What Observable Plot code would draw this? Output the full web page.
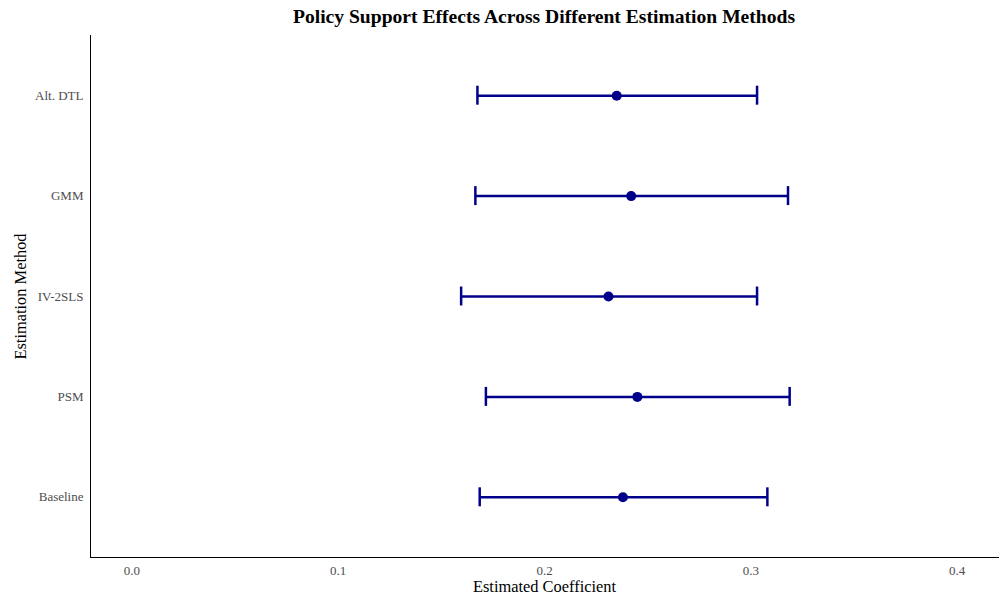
<!DOCTYPE html>
<html>
<head>
<meta charset="utf-8">
<script src="https://cdn.jsdelivr.net/npm/d3@7"></script>
<script src="https://cdn.jsdelivr.net/npm/@observablehq/plot@0.6"></script>
<style>
  html, body { margin: 0; padding: 0; background: #fff; }
  #wrap { width: 1005px; height: 599px; position: relative; font-family: "Liberation Serif", "Times New Roman", serif; }
  #title { position: absolute; left: 90px; width: 908px; top: 5px; text-align: center; font-weight: bold; font-size: 19.6px; color: #000; line-height: 24px; }
  #chart { position: absolute; left: 0; top: 30px; }
</style>
</head>
<body>
<div id="wrap">
  <div id="title">Policy Support Effects Across Different Estimation Methods</div>
  <div id="chart"></div>
</div>
<script>
const methods = ["Alt. DTL", "GMM", "IV-2SLS", "PSM", "Baseline"];
const estimates = [0.235, 0.242, 0.231, 0.245, 0.238];
const ciLower = [0.1675, 0.1665, 0.1596, 0.1716, 0.1686];
const ciUpper = [0.3030, 0.3180, 0.3030, 0.3188, 0.3080];
const xTicks = [0.0, 0.1, 0.2, 0.3, 0.4];

const data = methods.map((m, i) => ({method: m, est: estimates[i], lo: ciLower[i], hi: ciUpper[i]}));
const col = "#00008B";

const chart = Plot.plot({
  width: 1005,
  height: 569,
  marginLeft: 90,
  marginRight: 7,
  marginTop: 5,
  marginBottom: 42,
  style: {fontFamily: "'Liberation Serif', 'Times New Roman', serif", background: "#fff"},
  x: {
    domain: [-0.02, 0.42],
    ticks: xTicks,
    tickFormat: d3.format(".1f"),
    tickSize: 0,
    tickPadding: 8,
    line: true,
    label: "Estimated Coefficient",
    labelAnchor: "center",
    labelArrow: "none",
    labelOffset: 34
  },
  y: {
    type: "band",
    domain: methods,
    round: false,
    paddingInner: 0.811,
    paddingOuter: 0.505,
    tickSize: 0,
    tickPadding: 7,
    line: true,
    label: "Estimation Method",
    labelAnchor: "center",
    labelArrow: "none",
    labelOffset: 76
  },
  marks: [
    Plot.ruleY(data, {y: "method", x1: "lo", x2: "hi", stroke: col, strokeWidth: 2.5}),
    Plot.tickX(data, {x: "lo", y: "method", stroke: col, strokeWidth: 2.5}),
    Plot.tickX(data, {x: "hi", y: "method", stroke: col, strokeWidth: 2.5}),
    Plot.dot(data, {x: "est", y: "method", r: 5, fill: col, stroke: "none"})
  ]
});

document.getElementById("chart").appendChild(chart);

const svg = d3.select(chart);
svg.selectAll("[aria-label='x-axis tick label']").attr("fill", "#4D4D4D").style("font-size", "13px");
svg.selectAll("[aria-label='y-axis tick label']").attr("fill", "#4D4D4D").style("font-size", "13px");
svg.selectAll("[aria-label='x-axis label'], [aria-label='y-axis label']").attr("fill", "#000").style("font-size", "16.4px");
svg.selectAll("[aria-label='x-axis line'], [aria-label='y-axis line']").attr("stroke", "#333").attr("stroke-width", 1.2).attr("stroke-opacity", 1);
</script>
</body>
</html>
